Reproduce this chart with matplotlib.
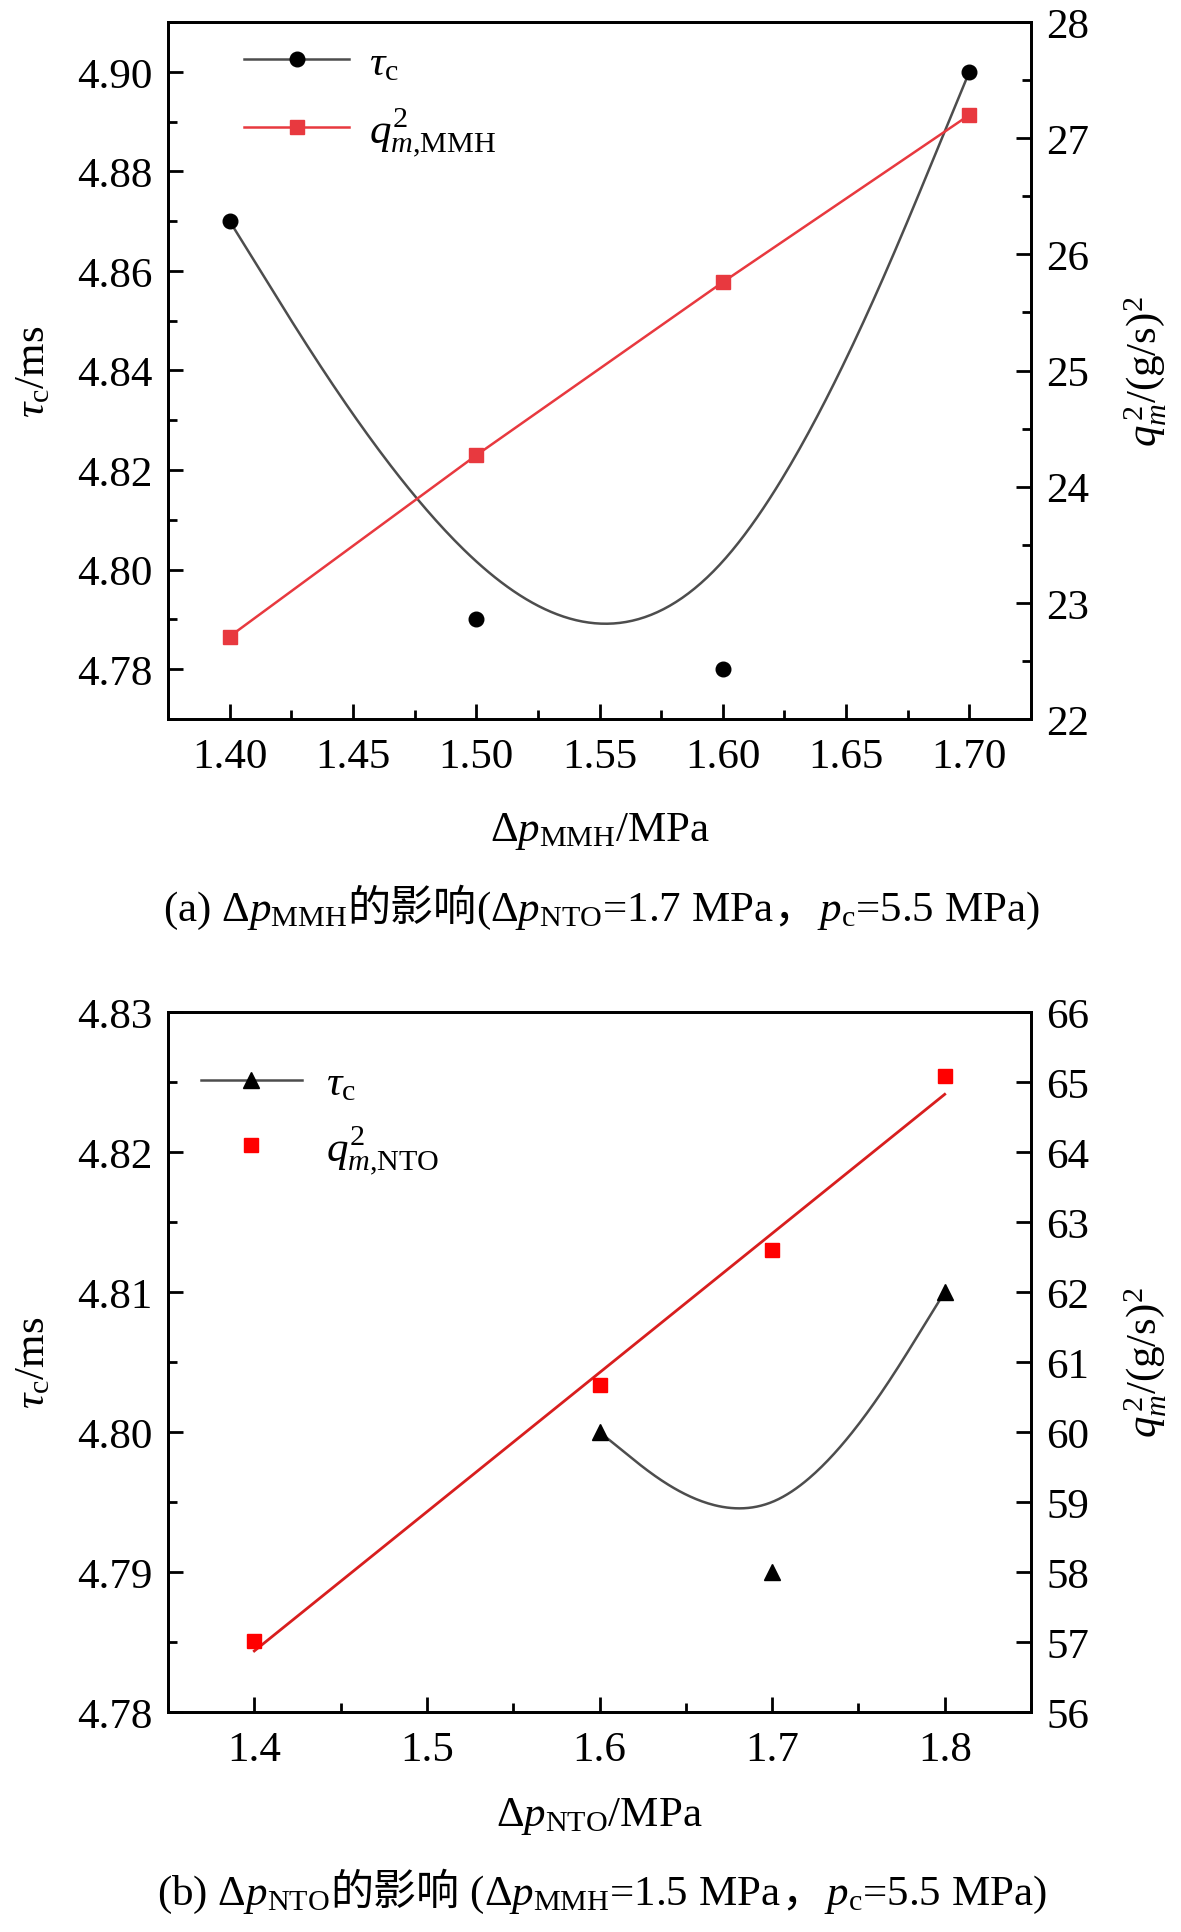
import numpy as np
import matplotlib
matplotlib.use("Agg")
import matplotlib.pyplot as plt
from matplotlib.ticker import MultipleLocator, FormatStrFormatter
from matplotlib.lines import Line2D

# ---------------- data ----------------
dp_mmh = [1.40, 1.50, 1.60, 1.70]
tau_a = [4.87, 4.79, 4.78, 4.90]
qm2_mmh = [22.71, 24.27, 25.76, 27.20]

dp_nto_tau = [1.6, 1.7, 1.8]
tau_b = [4.80, 4.79, 4.81]
dp_nto = [1.4, 1.6, 1.7, 1.8]
qm2_nto = [57.02, 60.67, 62.60, 65.09]

x_ticks_a = [1.40, 1.45, 1.50, 1.55, 1.60, 1.65, 1.70]
x_ticks_b = [1.4, 1.5, 1.6, 1.7, 1.8]

SERIF = "Liberation Serif"
CJK = "Noto Sans CJK SC"

plt.rcParams.update({
    "font.family": SERIF,
    "mathtext.fontset": "custom",
    "mathtext.rm": SERIF,
    "mathtext.it": SERIF + ":italic",
    "mathtext.bf": SERIF + ":bold",
    "axes.linewidth": 2.0,
    "xtick.direction": "in",
    "ytick.direction": "in",
})

FS = 31
GRAY = "#4d4d4d"
RED_A = "#e8393f"
RED_B = "#ff0000"
RED_B_LINE = "#d81e1e"


def bspline(xs, ys, n=80):
    """Uniform cubic B-spline with clamped (tripled) end points."""
    P = np.column_stack([xs, ys]).astype(float)
    Q = np.vstack([P[:1], P[:1], P, P[-1:], P[-1:]])
    M = np.array([[-1, 3, -3, 1], [3, -6, 3, 0], [-3, 0, 3, 0], [1, 4, 1, 0]]) / 6.0
    t = np.linspace(0, 1, n)
    T = np.column_stack([t ** 3, t ** 2, t, np.ones_like(t)])
    pts = np.vstack([T @ M @ Q[i:i + 4] for i in range(len(Q) - 3)])
    return pts[:, 0], pts[:, 1]


W, H = 1181, 1933
fig = plt.figure(figsize=(W / 100, H / 100), dpi=100)


def style(ax, axr):
    ax.tick_params(axis="both", which="major", length=10.5, width=2.0, labelsize=FS,
                   top=False, right=False)
    ax.tick_params(axis="both", which="minor", length=6.5, width=2.0, top=False, right=False)
    ax.tick_params(axis="y", pad=11)
    ax.tick_params(axis="x", pad=13)
    axr.tick_params(axis="y", which="major", length=10.5, width=2.0, labelsize=FS, pad=11)
    axr.tick_params(axis="y", which="minor", length=6.5, width=2.0)


# ---------------- panel (a) ----------------
ax1 = fig.add_axes([168 / W, 1 - 720 / H, 863 / W, 697 / H])
ax1r = ax1.twinx()
bx, by = bspline(dp_mmh, tau_a)
ax1.plot(bx, by, color=GRAY, lw=1.8, zorder=2)
ax1.plot(dp_mmh, tau_a, ls="none", marker="o", ms=10.5, mfc="k", mec="k", zorder=3)
ax1r.plot(dp_mmh, qm2_mmh, color=RED_A, lw=1.8, marker="s", ms=9.5, mfc=RED_A, mec=RED_A)

ax1.set_xlim(1.375, 1.725)
ax1.set_ylim(4.77, 4.91)
ax1r.set_ylim(22, 28)
ax1.set_xticks(x_ticks_a)
ax1.xaxis.set_minor_locator(MultipleLocator(0.025))
ax1.xaxis.set_major_formatter(FormatStrFormatter("%.2f"))
ax1.yaxis.set_major_locator(MultipleLocator(0.02))
ax1.yaxis.set_minor_locator(MultipleLocator(0.01))
ax1.yaxis.set_major_formatter(FormatStrFormatter("%.2f"))
ax1r.yaxis.set_major_locator(MultipleLocator(1))
ax1r.yaxis.set_minor_locator(MultipleLocator(0.5))
style(ax1, ax1r)

ax1.set_ylabel(r"$\tau_{\rm c}$/ms", fontsize=FS)
ax1.yaxis.set_label_coords(-0.133, 0.5)
ax1r.set_ylabel(r"$q_m^{\,2}$/(g/s)$^2$", fontsize=FS)
ax1r.yaxis.set_label_coords(1.105, 0.5)
ax1.set_xlabel(r"Δ$p_{\rm MMH}$/MPa", fontsize=FS)
ax1.xaxis.set_label_coords(0.5, -0.13)

ha1 = Line2D([], [], color=GRAY, lw=1.8, marker="o", ms=10.5, mfc="k", mec="k")
ha2 = Line2D([], [], color=RED_A, lw=1.8, marker="s", ms=9.5, mfc=RED_A, mec=RED_A)
ax1r.legend([ha1, ha2], [r"$\tau_{\rm c}$", r"$q^2_{m{,}\rm MMH}$"], loc="upper left",
            bbox_to_anchor=(0.088, 0.968), frameon=False, fontsize=FS,
            handlelength=2.45, handletextpad=0.45, labelspacing=0.5,
            borderpad=0, borderaxespad=0)

# ---------------- panel (b) ----------------
ax2 = fig.add_axes([168 / W, 1 - 1713 / H, 863 / W, 700 / H])
ax2r = ax2.twinx()
cx, cy = bspline(dp_nto_tau, tau_b)
ax2.plot(cx, cy, color=GRAY, lw=1.8, zorder=2)
ax2.plot(dp_nto_tau, tau_b, ls="none", marker="^", ms=11.5, mfc="k", mec="k", zorder=3)
coef = np.polyfit(dp_nto, qm2_nto, 1)
fx = np.array([min(dp_nto), max(dp_nto)])
ax2r.plot(fx, np.polyval(coef, fx), color=RED_B_LINE, lw=2.0)
ax2r.plot(dp_nto, qm2_nto, ls="none", marker="s", ms=10, mfc=RED_B, mec=RED_B)

ax2.set_xlim(1.35, 1.85)
ax2.set_ylim(4.78, 4.83)
ax2r.set_ylim(56, 66)
ax2.set_xticks(x_ticks_b)
ax2.xaxis.set_minor_locator(MultipleLocator(0.05))
ax2.xaxis.set_major_formatter(FormatStrFormatter("%.1f"))
ax2.yaxis.set_major_locator(MultipleLocator(0.01))
ax2.yaxis.set_minor_locator(MultipleLocator(0.005))
ax2.yaxis.set_major_formatter(FormatStrFormatter("%.2f"))
ax2r.yaxis.set_major_locator(MultipleLocator(1))
style(ax2, ax2r)

ax2.set_ylabel(r"$\tau_{\rm c}$/ms", fontsize=FS)
ax2.yaxis.set_label_coords(-0.133, 0.5)
ax2r.set_ylabel(r"$q_m^{\,2}$/(g/s)$^2$", fontsize=FS)
ax2r.yaxis.set_label_coords(1.105, 0.5)
ax2.set_xlabel(r"Δ$p_{\rm NTO}$/MPa", fontsize=FS)
ax2.xaxis.set_label_coords(0.5, -0.118)

hb1 = Line2D([], [], color=GRAY, lw=1.8, marker="^", ms=11.5, mfc="k", mec="k")
hb2 = Line2D([], [], ls="none", marker="s", ms=10, mfc=RED_B, mec=RED_B)
ax2r.legend([hb1, hb2], [r"$\tau_{\rm c}$", r"$q^2_{m{,}\rm NTO}$"], loc="upper left",
            bbox_to_anchor=(0.038, 0.925), frameon=False, fontsize=FS,
            handlelength=2.35, handletextpad=0.55, labelspacing=0.45,
            borderpad=0, borderaxespad=0)


# ---------------- captions (mixed Latin / CJK) ----------------
def caption(pieces, xc_px, yb_px, size):
    texts = []
    for s, fam in pieces:
        t = fig.text(0, 1 - yb_px / H, s, fontsize=size, family=fam,
                     ha="left", va="baseline")
        texts.append(t)
    fig.canvas.draw()
    r = fig.canvas.get_renderer()
    widths = [t.get_window_extent(r).width for t in texts]
    x = xc_px - sum(widths) / 2
    for t, w in zip(texts, widths):
        t.set_x(x / W)
        x += w


caption([("(a) Δ$p_{\\rm MMH}$", SERIF), ("的影响", CJK),
         ("(Δ$p_{\\rm NTO}$=1.7 MPa", SERIF), ("，", CJK),
         ("$p_{\\rm c}$=5.5 MPa)", SERIF)], 601, 921, FS)
caption([("(b) Δ$p_{\\rm NTO}$", SERIF), ("的影响", CJK),
         (" (Δ$p_{\\rm MMH}$=1.5 MPa", SERIF), ("，", CJK),
         ("$p_{\\rm c}$=5.5 MPa)", SERIF)], 602, 1905, FS)

fig.savefig("out.png", dpi=100)
